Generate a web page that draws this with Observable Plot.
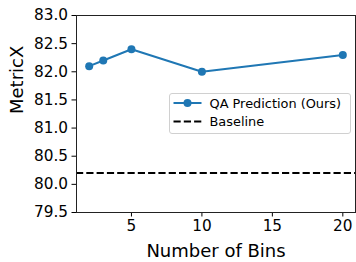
<!DOCTYPE html>
<html>
<head>
<meta charset="utf-8">
<script src="https://cdn.jsdelivr.net/npm/d3@7"></script>
<script src="https://cdn.jsdelivr.net/npm/@observablehq/plot@0.6"></script>
<style>
  html, body { margin: 0; padding: 0; background: white; }
  #wrap { position: relative; width: 356px; height: 262px; }
  #legend { position: absolute; left: 168.5px; top: 93px; }
</style>
</head>
<body>
<div id="wrap"></div>
<script>
const bins = [2, 3, 5, 10, 20];
const metricX = [82.1, 82.2, 82.4, 82.0, 82.3];
const baselineValue = 80.2;
const xTicks = [5, 10, 15, 20];
const yTicks = [79.5, 80.0, 80.5, 81.0, 81.5, 82.0, 82.5, 83.0];
const seriesNames = ["QA Prediction (Ours)", "Baseline"];
const xLabel = "Number of Bins";
const yLabel = "MetricX";

const data = bins.map((b, i) => ({bins: b, value: metricX[i]}));
const blue = "#1f77b4";
const font = "DejaVu Sans, sans-serif";

const chart = Plot.plot({
  width: 356,
  height: 262,
  marginLeft: 76,
  marginRight: 1,
  marginTop: 15,
  marginBottom: 50,
  style: {fontFamily: font, fontSize: "15.3px", background: "white", color: "#000"},
  x: {domain: [1.1, 20.9]},
  y: {domain: [79.5, 83.0]},
  marks: [
    Plot.ruleY([baselineValue], {stroke: "black", strokeWidth: 2, strokeDasharray: "7.2,3.1"}),
    Plot.line(data, {x: "bins", y: "value", stroke: blue, strokeWidth: 2}),
    Plot.dot(data, {x: "bins", y: "value", r: 4, fill: blue}),
    Plot.axisX({ticks: xTicks, tickSize: 4.5, tickPadding: 3.5, label: null, fontSize: 15.3}),
    Plot.axisY({ticks: yTicks, tickSize: 4.5, tickPadding: 4, tickFormat: d3.format(".1f"), label: null, fontSize: 15.3}),
    Plot.frame({stroke: "#222", strokeWidth: 1}),
    Plot.text([xLabel], {text: d => d, frameAnchor: "bottom", dy: 44, lineAnchor: "bottom", fontSize: 18}),
    Plot.text([yLabel], {text: d => d, frameAnchor: "left", dx: -59.5, rotate: -90, fontSize: 18})
  ]
});
document.getElementById("wrap").appendChild(chart);

// Legend overlay
const lw = 182, lh = 41;
const leg = d3.create("svg").attr("id", "legend").attr("width", lw).attr("height", lh)
  .style("font-family", font);
leg.append("rect").attr("x", 0.5).attr("y", 0.5).attr("width", lw - 1).attr("height", lh - 1)
  .attr("rx", 2.5).attr("fill", "white").attr("fill-opacity", 0.8).attr("stroke", "#d0d0d0");
leg.append("line").attr("x1", 4.5).attr("x2", 32.5).attr("y1", 10).attr("y2", 10)
  .attr("stroke", blue).attr("stroke-width", 2);
leg.append("circle").attr("cx", 18.5).attr("cy", 10).attr("r", 4).attr("fill", blue);
leg.append("line").attr("x1", 4.5).attr("x2", 32.5).attr("y1", 28.5).attr("y2", 28.5)
  .attr("stroke", "black").attr("stroke-width", 2).attr("stroke-dasharray", "7.2,3.1");
leg.append("text").attr("x", 40.5).attr("y", 14.6).attr("font-size", 12.9).text(seriesNames[0]);
leg.append("text").attr("x", 40.5).attr("y", 33.1).attr("font-size", 12.9).text(seriesNames[1]);
document.getElementById("wrap").appendChild(leg.node());
</script>
</body>
</html>
